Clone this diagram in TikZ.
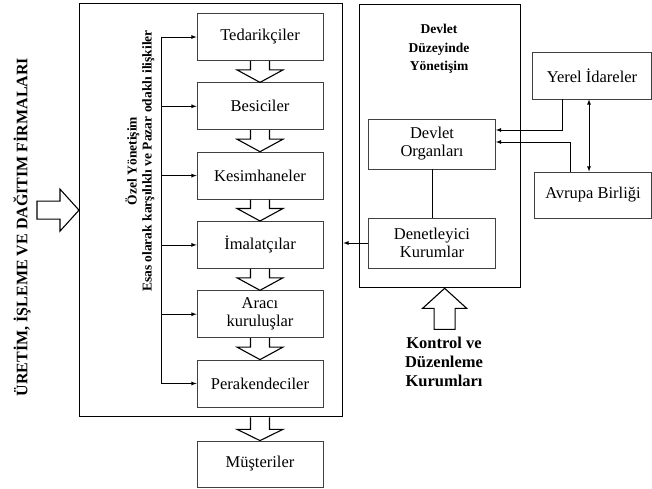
\documentclass[tikz,border=0pt]{standalone}
\usepackage{fontspec}
\setmainfont{Liberation Serif}
\usepackage{tikz}
\usetikzlibrary{arrows, positioning, calc}

\begin{document}
\begin{tikzpicture}[
    x=1pt, y=1pt,
    node distance=21.5pt,
    actor/.style={rectangle, minimum width=126pt, minimum height=47pt, text centered, align=center, draw=black!75, line width=0.8pt, inner sep=2pt, font=\fontsize{16.5}{18}\selectfont},
    frame/.style={rectangle, draw=black, line width=1.3pt, inner sep=0pt},
    title/.style={align=center, inner sep=1pt, font=\bfseries\fontsize{16.5}{19}\selectfont},
    hollow/.style={draw=black, line width=1.1pt, line join=miter},
    arrow/.style={->, >=latex, line width=0.8pt},
    link/.style={line width=0.8pt}
]
    \useasboundingbox (0,0) rectangle (652,-489);

    % private governance: the chain
    \node[frame, anchor=north west, minimum width=263pt, minimum height=413pt] (priv) at (79,-3) {};
    \node[actor] (tedar) at (260,-37) {Tedarikçiler};
    \node[actor, below=of tedar] (besic) {Besiciler};
    \node[actor, below=of besic] (kesim) {Kesimhaneler};
    \node[actor, below=of kesim] (imal) {İmalatçılar};
    \node[actor, below=of imal] (araci) {Aracı\\kuruluşlar};
    \node[actor, below=of araci] (perak) {Perakendeciler};
    \node[actor, minimum height=46pt] (muster) at (260,-464) {Müşteriler};

    \node[title, rotate=90, font=\bfseries\fontsize{16}{19}\selectfont] (firms) at (22,-227) {ÜRETİM, İŞLEME VE DAĞITIM FİRMALARI};
    \node[title, rotate=90, font=\bfseries\fontsize{13.5}{15}\selectfont] (ozel) at (140,-161) {Özel Yönetişim\\Esas olarak karşılıklı ve Pazar odaklı ilişkiler};

    % state level
    \node[frame, anchor=north west, minimum width=161pt, minimum height=283pt] (state) at (359,-4) {};
    \node[title, font=\bfseries\fontsize{13.5}{18.5}\selectfont] (statetitle) at (439,-49) {Devlet\\Düzeyinde\\Yönetişim};
    \node[actor, minimum width=127pt, minimum height=50pt] (organ) at (432,-144) {Devlet\\Organları};
    \node[actor, minimum width=127pt, minimum height=50pt] (denet) at (432,-243) {Denetleyici\\Kurumlar};
    \node[title] (ctrl) at (444,-362) {Kontrol ve\\Düzenleme\\Kurumları};

    \node[actor, minimum width=119pt] (yerel) at (592,-75.5) {Yerel İdareler};
    \node[actor, minimum width=117pt, minimum height=46pt] (avrupa) at (593,-195) {Avrupa Birliği};

    % side links
    \coordinate (bus) at ($(tedar.west)+(-35,0)$);
    \draw[link] (bus) -- (bus |- perak.west);
    \foreach \n in {tedar, besic, kesim, imal, araci, perak}
        \draw[arrow] (bus |- \n.west) -- (\n.west);

    \draw[link] (organ) -- (denet);
    \draw[arrow] (denet.west) -- (denet.west -| priv.east);
    \draw[arrow] ($(yerel.south)+(-30,0)$) |- ($(organ.east)+(0,14)$);
    \draw[arrow] ($(avrupa.north)+(-23,0)$) |- ($(organ.east)+(0,2)$);
    \draw[arrow, <->] ($(yerel.south)+(-3,0)$) -- ($(avrupa.north)+(-4,0)$);

    % block arrows
    \foreach \a/\b in {tedar/besic, besic/kesim, kesim/imal, imal/araci, araci/perak}
        \draw[hollow] ($(\a.south)+(-9.5,0)$) -- ++(0,-9) -- ++(-13.5,0) -- (\b.north)
            -- ($(\a.south)+(23,-9)$) -- ++(-13.5,0) -- ++(0,9);
    \draw[hollow] ($(muster.north |- priv.south)+(-9.5,0)$) -- ++(0,-12) -- ++(-13.5,0) -- (muster.north)
        -- ($(muster.north |- priv.south)+(23,-12)$) -- ++(-13.5,0) -- ++(0,12);
    \draw[hollow] (priv.west) -- ++(-19,21) -- ++(0,-12) -- ++(-23,0) -- ++(0,-18)
        -- ++(23,0) -- ++(0,-12) -- cycle;
    \draw[hollow] ($(state.south)+(4.5,0)$) -- ++(22,-20) -- ++(-11.5,0) -- ++(0,-21)
        -- ++(-21,0) -- ++(0,21) -- ++(-11.5,0) -- cycle;

\end{tikzpicture}
\end{document}
